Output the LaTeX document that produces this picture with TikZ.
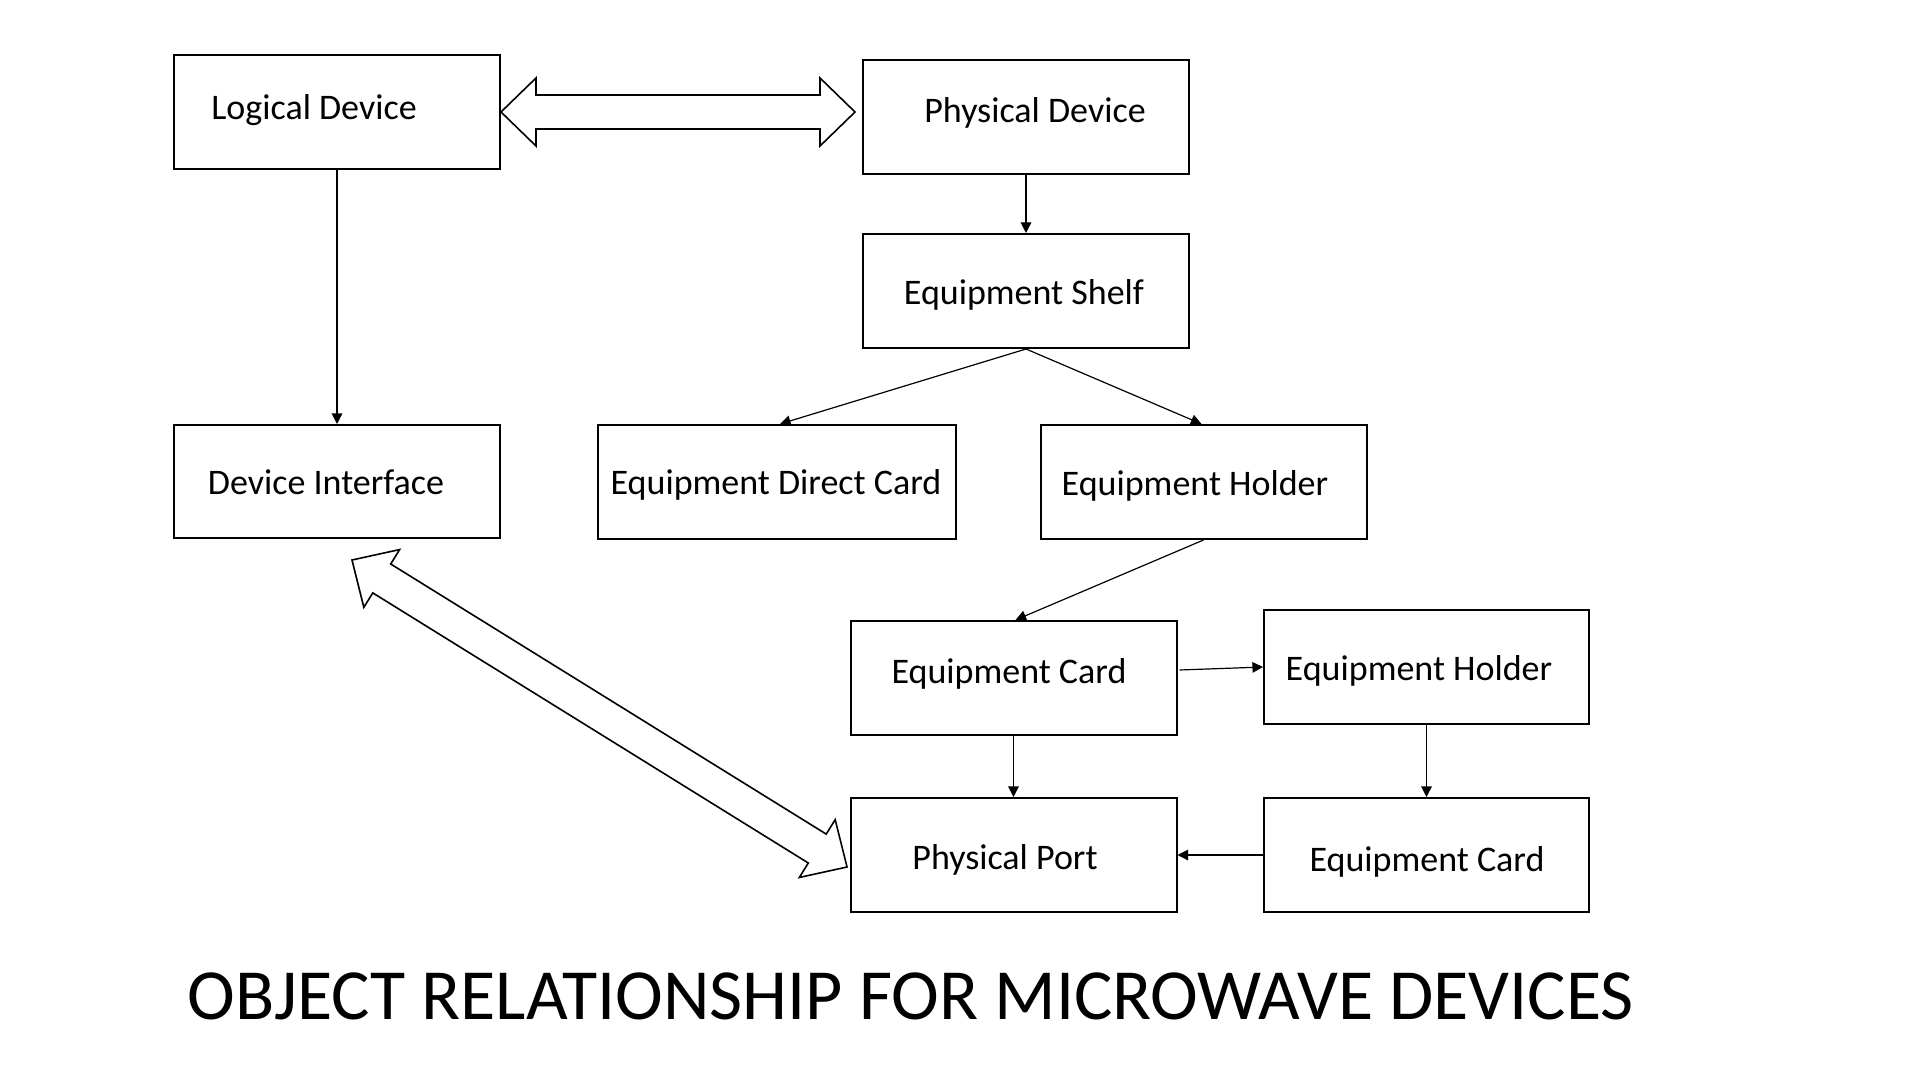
\documentclass[tikz,border=0pt]{standalone}
\usepackage{fontspec}
\setmainfont{Carlito}
\usetikzlibrary{calc,arrows.meta}
\tikzset{
  box/.style={draw, line width=1pt, inner sep=0pt, minimum width=163pt, minimum height=57pt},
  lbl/.style={anchor=base, inner sep=0pt, font=\fontsize{18}{22}\selectfont},
  conn/.style={line width=0.6pt, -{Triangle[length=5.3pt,width=5.3pt]}},
  blockarrow/.style={draw, line width=0.8pt, fill=white, line join=miter},
}
\newcommand{\dblarrow}[2]{%
  \draw[blockarrow] (#1)
    -- ($(#1)!17.5pt!(#2)!17pt!90:(#2)$)
    -- ($(#1)!17.5pt!(#2)!8.5pt!90:(#2)$)
    -- ($(#2)!17.5pt!(#1)!8.5pt!-90:(#1)$)
    -- ($(#2)!17.5pt!(#1)!17pt!-90:(#1)$)
    -- (#2)
    -- ($(#2)!17.5pt!(#1)!17pt!90:(#1)$)
    -- ($(#2)!17.5pt!(#1)!8.5pt!90:(#1)$)
    -- ($(#1)!17.5pt!(#2)!8.5pt!-90:(#2)$)
    -- ($(#1)!17.5pt!(#2)!17pt!-90:(#2)$)
    -- cycle;}
\begin{document}
\begin{tikzpicture}[x=0.5pt,y=-0.5pt]
\fill[white] (0,0) rectangle (1920,1080);
\useasboundingbox (0,0) rectangle (1920,1080);

% boxes
\node[box] (LD)  at (337,112)    {};
\node[box] (PD)  at (1026,117)   {};
\node[box] (ES)  at (1026,291)   {};
\node[box, minimum height=56.5pt] (DI) at (337,481.5) {};
\node[box, minimum width=179pt] (EDC) at (777,482) {};
\node[box] (EH)  at (1203.5,482) {};
\node[box] (EC)  at (1013.5,678) {};
\node[box, minimum width=162.5pt] (EH2) at (1426.5,667) {};
\node[box] (PP)  at (1013.5,855) {};
\node[box, minimum width=162.5pt] (EC2) at (1426.5,855) {};

% labels
\node[lbl] (tLD)  at (314,119.5)  {Logical Device};
\node[lbl] (tPD)  at (1035,123)   {Physical Device};
\node[lbl] (tES)  at (1024,304.5) {Equipment Shelf};
\node[lbl] (tDI)  at (326,494.5)  {Device Interface};
\node[lbl] (tEDC) at (776,494)    {Equipment Direct Card};
\node[lbl] (tEH)  at (1195,495.5) {Equipment Holder};
\node[lbl] (tEC)  at (1009,683.5) {Equipment Card};
\node[lbl] (tEH2) at (1419,680)   {Equipment Holder};
\node[lbl] (tPP)  at (1005,869.5) {Physical Port};
\node[lbl] (tEC2) at (1427,871)   {Equipment Card};

% connectors
\draw[conn] (LD.south) -- (DI.north);
\draw[conn] (PD.south) -- (ES.north);
\draw[conn] (ES.south) -- ($(EDC.north)+(3,0)$);
\draw[conn] (ES.south) -- ($(EH.north)+(-2,0)$);
\draw[conn] (EH.south) -- ($(EC.north)+(2,0)$);
\draw[conn] ($(EC.east)+(2,-8)$) -- (EH2.west);
\draw[conn] (EC.south) -- (PP.north);
\draw[conn] (EH2.south) -- (EC2.north);
\draw[conn] (EC2.west) -- (PP.east);

% block arrows
\coordinate (h1) at (LD.east);
\coordinate (h2) at ($(PD.west |- LD.east)+(-7,0)$);
\coordinate (d1) at ($(DI.south)+(15,21)$);
\coordinate (d2) at ($(PP.west)+(-2.5,12)$);
\dblarrow{h1}{h2}
\dblarrow{d1}{d2}

% title
\node[anchor=base west, inner sep=0pt, font=\fontsize{36}{43}\selectfont] (title) at (187,1019) {OBJECT RELATIONSHIP FOR MICROWAVE DEVICES};
\end{tikzpicture}
\end{document}
